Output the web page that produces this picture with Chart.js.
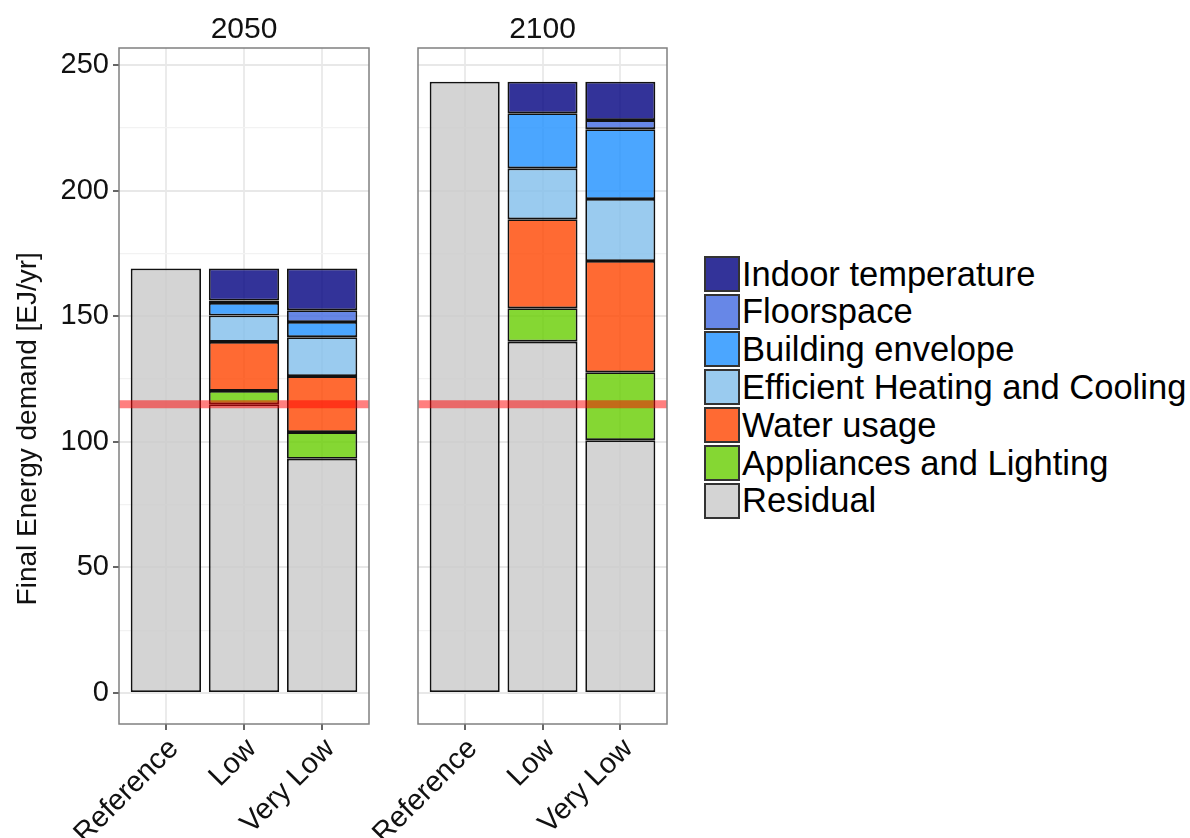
<!DOCTYPE html>
<html>
<head>
<meta charset="utf-8">
<script src="https://cdn.jsdelivr.net/npm/chart.js@4.4.1/dist/chart.umd.min.js"></script>
<style>
  body { margin: 0; background: #fff; width: 1190px; height: 838px; overflow: hidden; position: relative;
         font-family: "Liberation Sans", Arial, sans-serif; }
  canvas { position: absolute; top: 0; }
  #legend { position: absolute; left: 704px; top: 255px; }
  .row { display: flex; align-items: center; height: 37.8px; }
  .key { width: 36px; height: 36px; border: 2px solid #333; box-sizing: border-box; margin-right: 2px; }
  .lab { font-size: 34.5px; color: #000; white-space: nowrap; line-height: 1; }
</style>
</head>
<body>
<canvas id="p2050" width="385" height="838" style="left:0px"></canvas>
<canvas id="p2100" width="355" height="838" style="left:330px"></canvas>
<div id="legend"></div>
<script>
// Scenarios on the x axis and the two facet years
const scenarios = ['Reference', 'Low', 'Very Low'];
const years = ['2050', '2100'];

// Final energy demand components [EJ/yr]; one value per scenario
const residual2050      = [169.0, 115.0, 93.3];
const appliances2050    = [null, 5.3, 10.6];
const water2050         = [null, 19.5, 22.3];
const efficient2050     = [null, 10.5, 15.5];
const envelope2050      = [null, 5.0, 6.0];
const floorspace2050    = [null, 1.0, 4.7];
const indoor2050        = [null, 12.7, 16.6];

const residual2100      = [243.4, 139.9, 100.7];
const appliances2100    = [null, 13.3, 27.0];
const water2100         = [null, 35.4, 44.3];
const efficient2100     = [null, 20.3, 24.7];
const envelope2100      = [null, 21.9, 27.8];
const floorspace2100    = [null, -0.3, 3.6];
const indoor2100        = [null, 12.6, 15.3];

// Demand level marked by the horizontal red line in each panel
const targetLevel = [115, 115];

// Tick values on the y axis
const yTicks = [0, 25, 50, 75, 100, 125, 150, 175, 200, 225, 250];

// Series names (stack order bottom -> top) and fills
const seriesNames = ['Residual', 'Appliances and Lighting', 'Water usage',
  'Efficient Heating and Cooling', 'Building envelope', 'Floorspace', 'Indoor temperature'];
const seriesColors = ['rgba(201,201,201,0.8)', 'rgba(102,205,0,0.8)', 'rgba(255,69,0,0.8)',
  'rgba(129,190,235,0.8)', 'rgba(30,144,255,0.8)', 'rgba(65,105,225,0.8)', 'rgba(0,0,128,0.8)'];

const seriesByYear = {
  '2050': [residual2050, appliances2050, water2050, efficient2050, envelope2050, floorspace2050, indoor2050],
  '2100': [residual2100, appliances2100, water2100, efficient2100, envelope2100, floorspace2100, indoor2100]
};

const FONT = '"Liberation Sans", Arial, sans-serif';

// Grey frame around each facet panel
const panelBorder = {
  id: 'panelBorder',
  afterDraw(chart) {
    const a = chart.chartArea, c = chart.ctx;
    c.save();
    c.strokeStyle = '#808080';
    c.lineWidth = 1.5;
    c.strokeRect(a.left, a.top, a.right - a.left, a.bottom - a.top);
    c.restore();
  }
};

// yAxisWidth: space left of the panel inside the canvas
function makePanel(canvasId, yearIdx, withYAxis, yAxisWidth) {
  const year = years[yearIdx];
  const series = seriesByYear[year];
  const datasets = [{
    type: 'line',
    label: 'target',
    data: [{ x: 0.4, y: targetLevel[yearIdx] }, { x: 3.6, y: targetLevel[yearIdx] }],
    borderColor: 'rgba(255,0,0,0.5)',
    borderWidth: 8,
    pointRadius: 0,
    stack: 'target',
    order: 0
  }];
  series.forEach((vals, k) => {
    datasets.push({
      type: 'bar',
      label: seriesNames[k],
      data: scenarios.map((s, i) => ({ x: i + 1, y: vals[i] })),
      backgroundColor: seriesColors[k],
      borderColor: '#111',
      borderWidth: 1.8,
      borderSkipped: false,
      barPercentage: 0.9,
      categoryPercentage: 1.0,
      stack: 'demand',
      order: 1
    });
  });

  return new Chart(document.getElementById(canvasId), {
    data: { datasets },
    plugins: [panelBorder],
    options: {
      responsive: false,
      animation: false,
      devicePixelRatio: 1,
      layout: { padding: { left: 0, right: withYAxis ? 16 : 18, top: 0, bottom: 0 } },
      plugins: {
        legend: { display: false },
        tooltip: { enabled: false },
        title: {
          display: true,
          text: year,
          fullSize: false,
          color: '#111',
          font: { family: FONT, size: 30, weight: 'normal' },
          padding: { top: 12, bottom: 0 }
        }
      },
      scales: {
        x: {
          type: 'linear',
          stacked: true,
          offset: false,
          min: 0.4,
          max: 3.6,
          afterBuildTicks: (scale) => { scale.ticks = scenarios.map((s, i) => ({ value: i + 1 })); },
          afterFit: (scale) => { scale.height = 114; scale.paddingLeft = 0; scale.paddingRight = 0; },
          ticks: {
            autoSkip: false,
            minRotation: 45,
            maxRotation: 45,
            padding: 2,
            labelOffset: 8,
            color: '#111',
            font: { family: FONT, size: 29 },
            callback: (v) => scenarios[Math.round(v) - 1]
          },
          grid: { offset: false, color: '#ebebeb', lineWidth: 2, tickColor: '#333', tickLength: 6, tickWidth: 1.5 },
          border: { display: false }
        },
        y: {
          type: 'linear',
          stacked: true,
          min: -12.3,
          max: 256.8,
          afterBuildTicks: (scale) => { scale.ticks = yTicks.map(v => ({ value: v })); },
          afterFit: (scale) => { scale.width = yAxisWidth; },
          title: {
            display: withYAxis,
            text: 'Final Energy demand [EJ/yr]' + ' '.repeat(11),
            color: '#111',
            font: { family: FONT, size: 28 },
            padding: { top: 11, bottom: 0 }
          },
          ticks: {
            display: withYAxis,
            padding: 4,
            color: '#111',
            font: { family: FONT, size: 29 },
            callback: (v) => (v % 50 === 0 ? String(v) : '')
          },
          grid: {
            color: (ctx) => (ctx.tick && ctx.tick.value % 50 === 0 ? '#e8e8e8' : '#f2f2f2'),
            lineWidth: (ctx) => (ctx.tick && ctx.tick.value % 50 === 0 ? 2 : 1.2),
            drawTicks: withYAxis,
            tickColor: (ctx) => (ctx.tick && ctx.tick.value % 50 === 0 ? '#333' : 'rgba(0,0,0,0)'),
            tickLength: 6,
            tickWidth: 1.5
          },
          border: { display: false }
        }
      }
    }
  });
}

makePanel('p2050', 0, true, 119);
makePanel('p2100', 1, false, 88);

// Legend, top entry first
const legend = document.getElementById('legend');
for (let k = seriesNames.length - 1; k >= 0; k--) {
  const row = document.createElement('div');
  row.className = 'row';
  const key = document.createElement('div');
  key.className = 'key';
  key.style.background = seriesColors[k];
  const lab = document.createElement('span');
  lab.className = 'lab';
  lab.textContent = seriesNames[k];
  row.appendChild(key);
  row.appendChild(lab);
  legend.appendChild(row);
}
</script>
</body>
</html>
